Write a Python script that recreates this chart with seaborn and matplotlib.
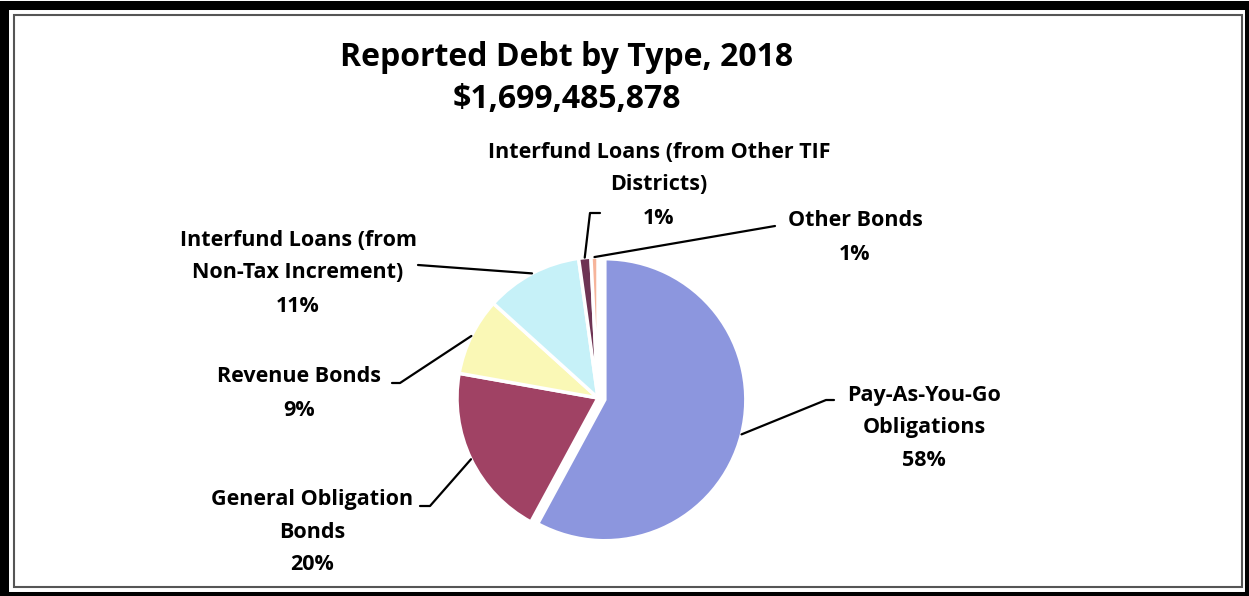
import numpy as np
import matplotlib
matplotlib.use("Agg")
import matplotlib.pyplot as plt
import seaborn as sns
from matplotlib.patches import Rectangle
from matplotlib.lines import Line2D

sns.set_theme(style="white")
plt.rcParams['font.family'] = ['Open Sans', 'DejaVu Sans']
plt.rcParams['text.color'] = 'black'

# ---- data ----
categories = [
    "Pay-As-You-Go\nObligations",
    "General Obligation\nBonds",
    "Revenue Bonds",
    "Interfund Loans (from\nNon-Tax Increment)",
    "Interfund Loans (from Other TIF\nDistricts)",
    "Other Bonds",
]
shares = [57.9, 19.9, 8.9, 11.1, 1.4, 0.8]
percent_labels = ["58%", "20%", "9%", "11%", "1%", "1%"]
colors = ["#8C96DE", "#A04264", "#FAF8B6", "#C6F1F8", "#6E3454", "#F6B49A"]
title_lines = ["Reported Debt by Type, 2018", "$1,699,485,878"]

W, H = 1249, 596
fig = plt.figure(figsize=(W / 100, H / 100), dpi=100)

def fx(x):
    return x / W

def fy(y):
    return 1 - y / H

# frame
fig.patches.append(Rectangle((fx(4), fy(596)), fx(1245), 1 - 5 / H, transform=fig.transFigure,
                             fill=False, edgecolor="black", linewidth=6.5, zorder=0))
fig.patches.append(Rectangle((fx(14), fy(587)), fx(1242 - 14), (587 - 15) / H, transform=fig.transFigure,
                             fill=False, edgecolor="#555555", linewidth=1.5, zorder=0))

# pie axes: center (598, 398), radius 141 px
cx, cy, r = 598, 398, 141
ax = fig.add_axes([fx(cx - r), fy(cy + r), fx(2 * r), 2 * r / H])
explode = [0.05, 0, 0, 0, 0, 0]
wedges, _ = ax.pie(shares, colors=colors, startangle=90, counterclock=False,
                   explode=explode,
                   wedgeprops=dict(edgecolor="white", linewidth=2.5))
ax.set_xlim(-1, 1)
ax.set_ylim(-1, 1)
ax.set_aspect("equal")
ax.axis("off")
for w in wedges:
    w.set_clip_on(False)

# title
fig.text(fx(567), fy(57), title_lines[0], ha="center", va="center", fontsize=23, fontweight="bold")
fig.text(fx(567), fy(100), title_lines[1], ha="center", va="center", fontsize=23, fontweight="bold")

# labels: (text center x, first-line y) and leader elbow/end points in pixels
label_pos = [
    (924, 395, [(826, 400), (834, 400)]),
    (312, 499, [(430, 506), (420, 506)]),
    (299, 377, [(400, 383), (392, 383)]),
    (298, 240, [(418, 265)]),
    (659, 152, [(590, 213), (600, 213)]),
    (855, 221, [(775, 226)]),
]

for w, cat, pct, (tx, ty, pts) in zip(wedges, categories, percent_labels, label_pos):
    lines = cat.split("\n") + [pct]
    for i, ln in enumerate(lines):
        fig.text(fx(tx), fy(ty + 33 * i), ln, ha="center", va="center",
                 fontsize=15.5, fontweight="bold")
    ang = np.deg2rad((w.theta1 + w.theta2) / 2)
    ox, oy = w.center
    px, py = ax.transData.transform((ox + np.cos(ang), oy + np.sin(ang)))
    xs = [px / fig.dpi / fig.get_figwidth()] + [fx(p[0]) for p in pts]
    ys = [py / fig.dpi / fig.get_figheight()] + [fy(p[1]) for p in pts]
    fig.lines.append(Line2D(xs, ys, transform=fig.transFigure, color="black", linewidth=1.6))

fig.savefig("out.png", dpi=100)
